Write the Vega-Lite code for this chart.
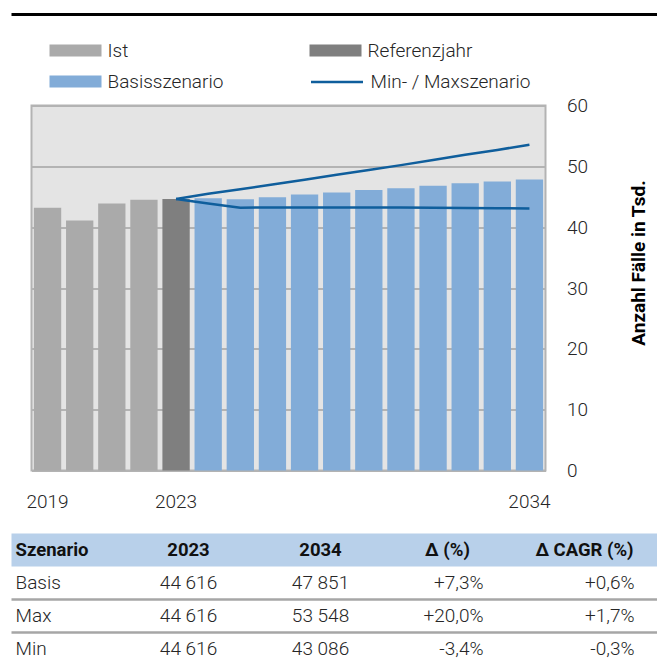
{
  "$schema": "https://vega.github.io/schema/vega-lite/v6.json",
  "padding": {"left": 9.5, "top": 12.5, "right": 0, "bottom": 0},
  "bounds": "flush",
  "spacing": 63,
  "config": {
    "view": {"stroke": null},
    "font": "Roboto",
    "legend": {"labelFont": "Roboto", "labelFontSize": 19, "labelFontWeight": 300, "labelOffset": 6, "labelColor": "#262626", "symbolSize": 2704, "symbolOpacity": 1}
  },
  "datasets": {
    "balken": [
      {"jahr": 2019, "typ": "Ist", "wert": 43.2},
      {"jahr": 2020, "typ": "Ist", "wert": 41.1},
      {"jahr": 2021, "typ": "Ist", "wert": 43.9},
      {"jahr": 2022, "typ": "Ist", "wert": 44.5},
      {"jahr": 2023, "typ": "Referenzjahr", "wert": 44.616},
      {"jahr": 2024, "typ": "Basisszenario", "wert": 44.75},
      {"jahr": 2025, "typ": "Basisszenario", "wert": 44.6},
      {"jahr": 2026, "typ": "Basisszenario", "wert": 44.9},
      {"jahr": 2027, "typ": "Basisszenario", "wert": 45.35},
      {"jahr": 2028, "typ": "Basisszenario", "wert": 45.7},
      {"jahr": 2029, "typ": "Basisszenario", "wert": 46.1},
      {"jahr": 2030, "typ": "Basisszenario", "wert": 46.4},
      {"jahr": 2031, "typ": "Basisszenario", "wert": 46.8},
      {"jahr": 2032, "typ": "Basisszenario", "wert": 47.2},
      {"jahr": 2033, "typ": "Basisszenario", "wert": 47.5},
      {"jahr": 2034, "typ": "Basisszenario", "wert": 47.851}
    ],
    "linien": [
      {"jahr": 2023, "szenario": "Max", "wert": 44.616},
      {"jahr": 2024, "szenario": "Max", "wert": 45.5},
      {"jahr": 2025, "szenario": "Max", "wert": 46.25},
      {"jahr": 2026, "szenario": "Max", "wert": 47.0},
      {"jahr": 2027, "szenario": "Max", "wert": 47.8},
      {"jahr": 2028, "szenario": "Max", "wert": 48.6},
      {"jahr": 2029, "szenario": "Max", "wert": 49.4},
      {"jahr": 2030, "szenario": "Max", "wert": 50.2},
      {"jahr": 2031, "szenario": "Max", "wert": 51.05},
      {"jahr": 2032, "szenario": "Max", "wert": 51.9},
      {"jahr": 2033, "szenario": "Max", "wert": 52.7},
      {"jahr": 2034, "szenario": "Max", "wert": 53.548},
      {"jahr": 2023, "szenario": "Min", "wert": 44.616},
      {"jahr": 2024, "szenario": "Min", "wert": 43.9},
      {"jahr": 2025, "szenario": "Min", "wert": 43.2},
      {"jahr": 2026, "szenario": "Min", "wert": 43.25},
      {"jahr": 2027, "szenario": "Min", "wert": 43.25},
      {"jahr": 2028, "szenario": "Min", "wert": 43.25},
      {"jahr": 2029, "szenario": "Min", "wert": 43.25},
      {"jahr": 2030, "szenario": "Min", "wert": 43.25},
      {"jahr": 2031, "szenario": "Min", "wert": 43.2},
      {"jahr": 2032, "szenario": "Min", "wert": 43.15},
      {"jahr": 2033, "szenario": "Min", "wert": 43.1},
      {"jahr": 2034, "szenario": "Min", "wert": 43.086}
    ],
    "tabelle": [
      {"zeile": "Kopf", "spalte": "Szenario", "text": "Szenario"},
      {"zeile": "Kopf", "spalte": "2023", "text": "2023"},
      {"zeile": "Kopf", "spalte": "2034", "text": "2034"},
      {"zeile": "Kopf", "spalte": "Δ (%)", "text": "Δ (%)"},
      {"zeile": "Kopf", "spalte": "Δ CAGR (%)", "text": "Δ CAGR (%)"},
      {"zeile": "Basis", "spalte": "Szenario", "text": "Basis"},
      {"zeile": "Basis", "spalte": "2023", "text": "44 616"},
      {"zeile": "Basis", "spalte": "2034", "text": "47 851"},
      {"zeile": "Basis", "spalte": "Δ (%)", "text": "+7,3%"},
      {"zeile": "Basis", "spalte": "Δ CAGR (%)", "text": "+0,6%"},
      {"zeile": "Max", "spalte": "Szenario", "text": "Max"},
      {"zeile": "Max", "spalte": "2023", "text": "44 616"},
      {"zeile": "Max", "spalte": "2034", "text": "53 548"},
      {"zeile": "Max", "spalte": "Δ (%)", "text": "+20,0%"},
      {"zeile": "Max", "spalte": "Δ CAGR (%)", "text": "+1,7%"},
      {"zeile": "Min", "spalte": "Szenario", "text": "Min"},
      {"zeile": "Min", "spalte": "2023", "text": "44 616"},
      {"zeile": "Min", "spalte": "2034", "text": "43 086"},
      {"zeile": "Min", "spalte": "Δ (%)", "text": "-3,4%"},
      {"zeile": "Min", "spalte": "Δ CAGR (%)", "text": "-0,3%"}
    ]
  },
  "vconcat": [
    {
      "width": 626,
      "height": 28,
      "data": {"values": [{"linie": 1}]},
      "mark": {"type": "rule", "color": "#000000", "strokeWidth": 3},
      "encoding": {
        "y": {"field": "linie", "type": "quantitative", "scale": {"domain": [0, 1]}, "axis": null},
        "x": {"datum": 0, "type": "quantitative", "scale": {"domain": [0, 1], "range": [-20, 626]}, "axis": null},
        "x2": {"datum": 1}
      }
    },
    {
      "width": 514,
      "height": 365,
      "view": {"fill": "#e4e4e4", "stroke": "#b3b3b3", "strokeWidth": 2},
      "resolve": {"scale": {"color": "independent", "stroke": "independent"}, "legend": {"color": "independent", "stroke": "independent"}},
      "layer": [
        {
          "data": {"name": "balken"},
          "transform": [{"filter": "datum.typ === 'Ist'"}],
          "mark": {"type": "bar"},
          "encoding": {
            "x": {
              "field": "jahr", "type": "ordinal",
              "scale": {"domain": [2019, 2020, 2021, 2022, 2023, 2024, 2025, 2026, 2027, 2028, 2029, 2030, 2031, 2032, 2033, 2034], "paddingInner": 0.15, "paddingOuter": 0.075},
              "axis": {"title": null, "labelAngle": 0, "ticks": false, "domain": false, "grid": false, "labelOverlap": false, "labelPadding": 22, "labelFontSize": 19, "labelFontWeight": 300, "labelColor": "#262626", "labelExpr": "datum.value == 2019 || datum.value == 2023 || datum.value == 2034 ? datum.label : ''"}
            },
            "y": {
              "field": "wert", "type": "quantitative",
              "scale": {"domain": [0, 60], "nice": false},
              "axis": {"orient": "right", "values": [0, 10, 20, 30, 40, 50, 60], "grid": true, "gridColor": "#b3b3b3", "gridWidth": 2, "ticks": false, "domain": false, "labelPadding": 21, "labelFontSize": 19, "labelFontWeight": 300, "labelColor": "#262626", "title": "Anzahl Fälle in Tsd.", "titleFontSize": 19, "titleFontWeight": "bold", "titleColor": "#000000", "titleAngle": 270, "titleX": 93, "titleY": 157, "titleAlign": "center", "titleBaseline": "middle"}
            },
            "color": {
              "field": "typ", "type": "nominal",
              "scale": {"range": ["#aaaaaa"]},
              "legend": {"orient": "none", "legendX": 18, "legendY": -81, "title": null, "symbolType": "M-1,-0.23H1V0.23H-1Z", "symbolStrokeWidth": 0}
            }
          }
        },
        {
          "data": {"name": "balken"},
          "transform": [{"filter": "datum.typ === 'Referenzjahr'"}],
          "mark": {"type": "bar"},
          "encoding": {
            "x": {"field": "jahr", "type": "ordinal"},
            "y": {"field": "wert", "type": "quantitative"},
            "color": {
              "field": "typ", "type": "nominal",
              "scale": {"range": ["#7f7f7f"]},
              "legend": {"orient": "none", "legendX": 278, "legendY": -81, "title": null, "symbolType": "M-1,-0.23H1V0.23H-1Z", "symbolStrokeWidth": 0}
            }
          }
        },
        {
          "data": {"name": "balken"},
          "transform": [{"filter": "datum.typ === 'Basisszenario'"}],
          "mark": {"type": "bar"},
          "encoding": {
            "x": {"field": "jahr", "type": "ordinal"},
            "y": {"field": "wert", "type": "quantitative"},
            "color": {
              "field": "typ", "type": "nominal",
              "scale": {"range": ["#82acd8"]},
              "legend": {"orient": "none", "legendX": 18, "legendY": -50, "title": null, "symbolType": "M-1,-0.23H1V0.23H-1Z", "symbolStrokeWidth": 0}
            }
          }
        },
        {
          "data": {"name": "linien"},
          "mark": {"type": "line", "strokeWidth": 2.5},
          "encoding": {
            "x": {"field": "jahr", "type": "ordinal"},
            "y": {"field": "wert", "type": "quantitative"},
            "detail": {"field": "szenario"},
            "stroke": {
              "datum": "Min- / Maxszenario",
              "scale": {"range": ["#0f5e9c"]},
              "legend": {"orient": "none", "legendX": 278, "legendY": -51, "title": null, "symbolType": "stroke", "symbolStrokeWidth": 2.5}
            }
          }
        }
      ]
    },
    {
      "width": 626,
      "height": 132,
      "data": {"name": "tabelle"},
      "resolve": {"scale": {"x": "independent"}},
      "encoding": {
        "y": {"field": "zeile", "type": "nominal", "bandPosition": 0.5, "scale": {"type": "band", "domain": ["Kopf", "Basis", "Max", "Min"], "paddingInner": 0, "paddingOuter": 0}, "axis": null}
      },
      "layer": [
        {
          "transform": [{"filter": "datum.zeile === 'Kopf' && datum.spalte === 'Szenario'"}],
          "mark": {"type": "rect", "color": "#b8d0ea"},
          "encoding": {
            "y": {"field": "zeile", "type": "nominal"},
            "x": {"datum": 0, "type": "quantitative", "scale": {"domain": [0, 1], "range": [-20, 626]}, "axis": null},
            "x2": {"datum": 1}
          }
        },
        {
          "transform": [{"filter": "(datum.zeile === 'Max' || datum.zeile === 'Min') && datum.spalte === 'Szenario'"}],
          "mark": {"type": "rule", "color": "#a6a6a6", "strokeWidth": 2.5},
          "encoding": {
            "y": {"field": "zeile", "type": "nominal", "bandPosition": 0},
            "x": {"datum": 0, "type": "quantitative", "scale": {"domain": [0, 1], "range": [-20, 626]}, "axis": null},
            "x2": {"datum": 1}
          }
        },
        {
          "transform": [{"filter": "datum.zeile === 'Kopf' && datum.spalte === 'Szenario'"}],
          "mark": {"type": "text", "align": "left", "dx": -41, "fontSize": 18.5, "fontWeight": "bold", "color": "#111111"},
          "encoding": {
            "x": {"field": "spalte", "type": "nominal", "scale": {"type": "point", "domain": ["Szenario", "2023", "2034", "Δ (%)", "Δ CAGR (%)"], "range": [25, 553], "padding": 0}, "axis": null},
            "text": {"field": "text"}
          }
        },
        {
          "transform": [{"filter": "datum.zeile === 'Kopf' && (datum.spalte === '2023' || datum.spalte === '2034' || datum.spalte === 'Δ CAGR (%)')"}],
          "mark": {"type": "text", "align": "center", "fontSize": 18.5, "fontWeight": "bold", "color": "#111111"},
          "encoding": {
            "x": {"field": "spalte", "type": "nominal", "scale": {"type": "point", "domain": ["Szenario", "2023", "2034", "Δ (%)", "Δ CAGR (%)"], "range": [25, 553], "padding": 0}, "axis": null},
            "text": {"field": "text"}
          }
        },
        {
          "transform": [{"filter": "datum.zeile === 'Kopf' && datum.spalte === 'Δ (%)'"}],
          "mark": {"type": "text", "align": "center", "dx": -5, "fontSize": 18.5, "fontWeight": "bold", "color": "#111111"},
          "encoding": {
            "x": {"field": "spalte", "type": "nominal", "scale": {"type": "point", "domain": ["Szenario", "2023", "2034", "Δ (%)", "Δ CAGR (%)"], "range": [25, 553], "padding": 0}, "axis": null},
            "text": {"field": "text"}
          }
        },
        {
          "transform": [{"filter": "datum.zeile !== 'Kopf' && datum.spalte === 'Szenario'"}],
          "mark": {"type": "text", "align": "left", "dx": -41, "fontSize": 19, "fontWeight": 300, "color": "#262626"},
          "encoding": {
            "x": {"field": "spalte", "type": "nominal", "scale": {"type": "point", "domain": ["Szenario", "2023", "2034", "Δ (%)", "Δ CAGR (%)"], "range": [25, 553], "padding": 0}, "axis": null},
            "text": {"field": "text"}
          }
        },
        {
          "transform": [{"filter": "datum.zeile !== 'Kopf' && (datum.spalte === '2023' || datum.spalte === '2034')"}],
          "mark": {"type": "text", "align": "center", "fontSize": 19, "fontWeight": 300, "color": "#262626"},
          "encoding": {
            "x": {"field": "spalte", "type": "nominal", "scale": {"type": "point", "domain": ["Szenario", "2023", "2034", "Δ (%)", "Δ CAGR (%)"], "range": [25, 553], "padding": 0}, "axis": null},
            "text": {"field": "text"}
          }
        },
        {
          "transform": [{"filter": "datum.zeile !== 'Kopf' && datum.spalte === 'Δ (%)'"}],
          "mark": {"type": "text", "align": "right", "dx": 31, "fontSize": 19, "fontWeight": 300, "color": "#262626"},
          "encoding": {
            "x": {"field": "spalte", "type": "nominal", "scale": {"type": "point", "domain": ["Szenario", "2023", "2034", "Δ (%)", "Δ CAGR (%)"], "range": [25, 553], "padding": 0}, "axis": null},
            "text": {"field": "text"}
          }
        },
        {
          "transform": [{"filter": "datum.zeile !== 'Kopf' && datum.spalte === 'Δ CAGR (%)'"}],
          "mark": {"type": "text", "align": "right", "dx": 50, "fontSize": 19, "fontWeight": 300, "color": "#262626"},
          "encoding": {
            "x": {"field": "spalte", "type": "nominal", "scale": {"type": "point", "domain": ["Szenario", "2023", "2034", "Δ (%)", "Δ CAGR (%)"], "range": [25, 553], "padding": 0}, "axis": null},
            "text": {"field": "text"}
          }
        }
      ]
    }
  ]
}
